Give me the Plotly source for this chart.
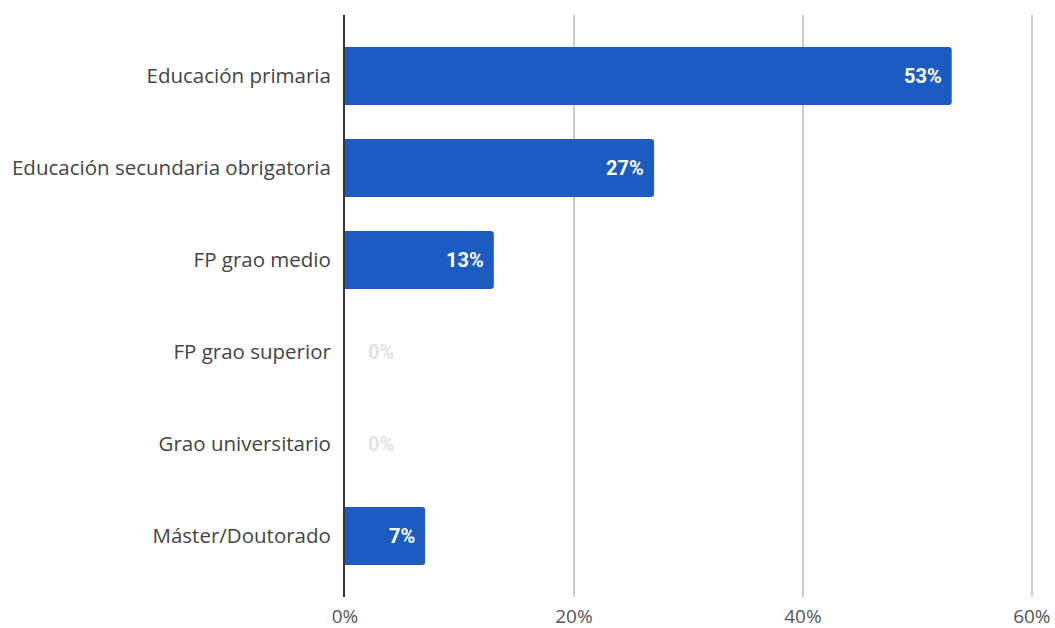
import plotly.graph_objects as go

categories = [
    "Educación primaria",
    "Educación secundaria obrigatoria",
    "FP grao medio",
    "FP grao superior",
    "Grao universitario",
    "Máster/Doutorado",
]
values = [53, 27, 13, 0, 0, 7]
x_ticks = [0, 20, 40, 60]
x_tick_labels = ["0%", "20%", "40%", "60%"]

bar_color = "#1c5bbf"

fig = go.Figure(
    go.Bar(
        x=values,
        y=categories,
        orientation="h",
        marker=dict(color=bar_color, line=dict(width=0), cornerradius=3),
        width=0.63,
        hoverinfo="skip",
    )
)

# value labels: white inside the bar end, light grey beside empty bars
annotations = []
for cat, v in zip(categories, values):
    if v > 0:
        annotations.append(dict(
            x=v, y=cat, text=f"{v}%", showarrow=False,
            xanchor="right", xshift=-8,
            font=dict(family="Roboto", size=20, color="white", weight="bold"),
        ))
    else:
        annotations.append(dict(
            x=v, y=cat, text=f"{v}%", showarrow=False,
            xanchor="left", xshift=21,
            font=dict(family="Roboto", size=20, color="#e3e3e3", weight="bold"),
        ))

fig.update_layout(
    width=1055,
    height=628,
    margin=dict(l=345, r=22, t=15, b=31),
    paper_bgcolor="white",
    plot_bgcolor="white",
    showlegend=False,
    annotations=annotations,
    font=dict(family="Open Sans", color="#444444"),
    xaxis=dict(
        # a hair past 60 so the last gridline stays visible
        range=[0, 60.1],
        tickvals=x_ticks,
        ticktext=x_tick_labels,
        showgrid=True,
        gridcolor="#cccccc",
        gridwidth=1.5,
        zeroline=False,
        showline=False,
        ticks="",
        tickfont=dict(size=19, color="#555555"),
        ticklabelstandoff=6,
        automargin=False,
        fixedrange=True,
    ),
    yaxis=dict(
        range=[5.664, -0.664],
        showgrid=False,
        zeroline=False,
        showline=True,
        linecolor="#333333",
        linewidth=2,
        ticks="",
        ticklabelstandoff=8,
        tickfont=dict(size=20.5, color="#444444"),
        automargin=False,
        fixedrange=True,
    ),
)

fig.write_html("out.html")
